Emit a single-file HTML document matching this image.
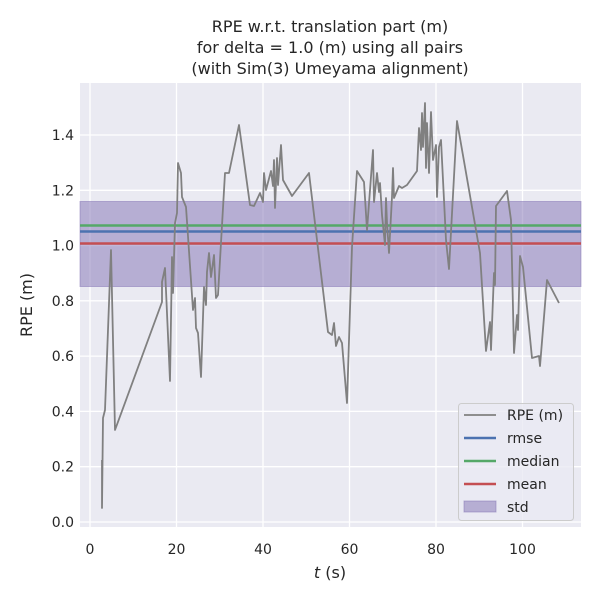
<!DOCTYPE html>
<html><head><meta charset="utf-8"><style>body{margin:0;background:#fff}svg{display:block}text{font-family:"DejaVu Sans","Liberation Sans",sans-serif;fill:#262626}</style></head><body>
<svg width="600" height="600" viewBox="0 0 600 600" xmlns="http://www.w3.org/2000/svg">
<rect width="600" height="600" fill="#fff"/>
<rect x="80" y="83" width="501" height="444" fill="#eaeaf2"/>
<g stroke="#fff" stroke-width="1.3">
<line x1="90" y1="83" x2="90" y2="527"/><line x1="176.5" y1="83" x2="176.5" y2="527"/><line x1="263" y1="83" x2="263" y2="527"/><line x1="349.5" y1="83" x2="349.5" y2="527"/><line x1="436" y1="83" x2="436" y2="527"/><line x1="522.5" y1="83" x2="522.5" y2="527"/>
<line x1="80" y1="522" x2="581" y2="522"/><line x1="80" y1="466.7" x2="581" y2="466.7"/><line x1="80" y1="411.4" x2="581" y2="411.4"/><line x1="80" y1="356.1" x2="581" y2="356.1"/><line x1="80" y1="300.8" x2="581" y2="300.8"/><line x1="80" y1="245.6" x2="581" y2="245.6"/><line x1="80" y1="190.3" x2="581" y2="190.3"/><line x1="80" y1="135" x2="581" y2="135"/>
</g>
<rect x="80" y="201.5" width="501" height="85" fill="#8172b3" fill-opacity="0.5" stroke="#8172b3" stroke-opacity="0.5"/>
<line x1="80" y1="231.5" x2="581" y2="231.5" stroke="#4c72b0" stroke-width="2.5"/>
<line x1="80" y1="225.5" x2="581" y2="225.5" stroke="#55a868" stroke-width="2.5"/>
<line x1="80" y1="243.5" x2="581" y2="243.5" stroke="#c44e52" stroke-width="2.5"/>
<polyline fill="none" stroke="#808080" stroke-width="1.8" stroke-linejoin="round" points="102,460 102,508 103,418 105,410 111,250 115,430 162,302 162,282 165,268 170,381 172,257 173,293 175,223 177,213 178,163 181,173 182,197 186,207 193,310 195,298 196,328 198,333 201,377 204,287 206,305 207,272 209,253 211,277 214,255 216,298 218,295 225,173 229,173 239,125 250,205 254,206 260,193 263,202 264,173 266,190 271,171 273,186 274,160 275,208 277,158 278,185 281,145 283,180 292,196 309,173 328,332 332,335 334,323 336,346 339,337 342,343 347,403 352,247 357,171 364,182 367,230 373,150 374,202 377,173 379,192 380,183 382,215 385,245 386,198 387,223 389,253 392,197 393,168 394,198 399,186 402,188 407,185 417,171 419,128 421,150 422,113 423,147 425,103 426,168 427,123 429,173 431,112 433,160 436,145 437,197 439,147 441,140 446,240 449,269 457,121 480,253 486,351 490,322 491,350 494,273 495,285 496,206 507,191 511,220 514,353 517,315 518,330 520,256 523,267 532,358 539,356 540,366 547,280 559,303"/>
<g font-size="14" text-anchor="middle">
<text x="90" y="554">0</text><text x="176.5" y="554">20</text><text x="263" y="554">40</text><text x="349.5" y="554">60</text><text x="436" y="554">80</text><text x="522.5" y="554">100</text>
</g>
<g font-size="14" text-anchor="end">
<text x="74" y="527">0.0</text><text x="74" y="471.7">0.2</text><text x="74" y="416.4">0.4</text><text x="74" y="361.1">0.6</text><text x="74" y="305.8">0.8</text><text x="74" y="250.6">1.0</text><text x="74" y="195.3">1.2</text><text x="74" y="140">1.4</text>
</g>
<text x="330" y="578" font-size="16" text-anchor="middle"><tspan font-style="italic">t</tspan> (s)</text>
<text transform="translate(32,305) rotate(-90)" font-size="16" text-anchor="middle">RPE (m)</text>
<g font-size="16" text-anchor="middle">
<text x="330" y="32">RPE w.r.t. translation part (m)</text>
<text x="330" y="53">for delta = 1.0 (m) using all pairs</text>
<text x="330" y="74">(with Sim(3) Umeyama alignment)</text>
</g>
<rect x="458.5" y="403.5" width="115" height="117" rx="3" fill="#eaeaf2" fill-opacity="0.8" stroke="#ccc"/>
<line x1="464" y1="415" x2="496" y2="415" stroke="#808080" stroke-width="1.8"/>
<line x1="464" y1="438" x2="496" y2="438" stroke="#4c72b0" stroke-width="2.5"/>
<line x1="464" y1="461" x2="496" y2="461" stroke="#55a868" stroke-width="2.5"/>
<line x1="464" y1="484" x2="496" y2="484" stroke="#c44e52" stroke-width="2.5"/>
<rect x="464" y="501" width="32" height="11" fill="#8172b3" fill-opacity="0.5" stroke="#8172b3" stroke-opacity="0.5"/>
<g font-size="14">
<text x="507" y="420">RPE (m)</text><text x="507" y="443">rmse</text><text x="507" y="466">median</text><text x="507" y="489">mean</text><text x="507" y="512">std</text>
</g>
</svg>
</body></html>
